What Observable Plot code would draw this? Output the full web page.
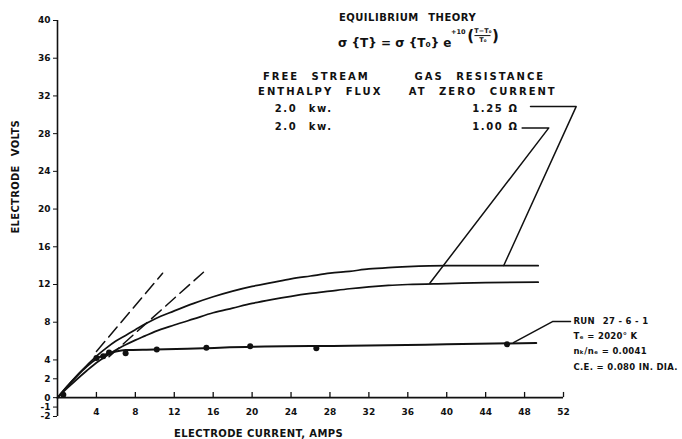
<!DOCTYPE html>
<html><head><meta charset="utf-8">
<script src="https://cdn.jsdelivr.net/npm/d3@7"></script>
<script src="https://cdn.jsdelivr.net/npm/@observablehq/plot@0.6"></script>
<style>
body{margin:0;background:#fff}
#chart svg{font-family:"DejaVu Sans",sans-serif;color:#111;background:#fff}
#chart svg text{font-weight:bold}
#chart [aria-description="title"] text{letter-spacing:0.5px}
#chart [aria-description="heads"] text{letter-spacing:2px}
#chart [aria-description="values"] text{letter-spacing:1.6px}
#chart [aria-description="xlabel"] text{letter-spacing:0.4px}
#chart [aria-description="ylabel"] text{letter-spacing:0.3px}
#chart [aria-description="run"] text{letter-spacing:0.3px}
</style>
</head><body><div id="chart"></div>
<script>
// ---- axes ----
const xTicks = [4, 8, 12, 16, 20, 24, 28, 32, 36, 40, 44, 48, 52];
const yTicks = [-2, -1, 0, 2, 4, 8, 12, 16, 20, 24, 28, 32, 36, 40];

// ---- theory curve, 1.25 ohm ----
const upperI = [0, 1, 2, 3, 4, 5, 6, 7, 8, 9, 10, 12, 14, 16, 18, 20, 22, 24, 26, 28, 30, 32, 34, 36, 40, 44, 49.4];
const upperV = [0, 1.2, 2.35, 3.4, 4.4, 5.25, 6.0, 6.6, 7.2, 7.8, 8.35, 9.2, 10.0, 10.7, 11.3, 11.8, 12.2, 12.6, 12.9, 13.2, 13.4, 13.65, 13.8, 13.9, 14.0, 14.0, 14.0];

// ---- theory curve, 1.00 ohm ----
const lowerI = [0, 1, 2, 3, 4, 5, 6, 7, 8, 9, 10, 12, 14, 16, 18, 20, 22, 24, 26, 28, 30, 32, 34, 36, 40, 44, 49.4];
const lowerV = [0, 1.0, 1.95, 2.85, 3.7, 4.4, 5.05, 5.6, 6.1, 6.55, 7.0, 7.7, 8.35, 9.0, 9.5, 10.0, 10.4, 10.75, 11.05, 11.3, 11.55, 11.75, 11.9, 12.0, 12.1, 12.2, 12.25];

// ---- zero-current resistance tangents (dashed) ----
const tan125I = [4.0, 10.8];
const tan125V = [4.9, 13.2];
const tan100I = [5.3, 15.0];
const tan100V = [4.35, 13.3];

// ---- run 27-6-1 measurements ----
const runI = [0.6, 4.0, 4.7, 5.3, 7.0, 10.2, 15.3, 19.8, 26.6, 46.2];
const runV = [0.3, 4.2, 4.4, 4.8, 4.7, 5.1, 5.3, 5.45, 5.25, 5.65];
const fitI = [0, 1, 2, 3, 4, 5, 6, 7, 10, 15, 20, 30, 40, 49.2];
const fitV = [0, 1.2, 2.3, 3.3, 4.1, 4.6, 4.9, 5.05, 5.1, 5.25, 5.4, 5.5, 5.65, 5.8];

// ---- leader lines (data units) ----
const lead125I = [48.61, 53.30, 45.86];
const lead125V = [30.87, 30.87, 14.01];
const lead100I = [47.75, 50.49, 38.26];
const lead100V = [28.61, 28.61, 12.13];
const leadRunI = [46.86, 50.87, 52.72];
const leadRunV = [5.84, 8.07, 8.07];

// ---- annotation texts ----
const titleText = ["EQUILIBRIUM\u2002 THEORY"];
const titleI = [35.97];
const titleV = [40.31];

const headText = ["FREE\u2002 STREAM", "ENTHALPY\u2002 FLUX", "GAS\u2002 RESISTANCE", "AT\u2002 ZERO\u2002 CURRENT"];
const headI = [26.6, 27.0, 43.4, 43.7];
const headV = [33.98, 32.39, 33.98, 32.39];

const valueText = ["2.0\u2002 kw.", "2.0\u2002 kw.", "1.25 Ω", "1.00 Ω"];
const valueI = [25.3, 25.3, 45.0, 45.0];
const valueV = [30.66, 28.68, 30.66, 28.68];

const runText = ["RUN\u2002 27 - 6 - 1", "Tₑ = 2020° K", "nₖ/nₑ = 0.0041", "C.E. = 0.080 IN. DIA."];
const runTextI = [53.03, 53.03, 53.03, 53.03];
const runTextV = [8.07, 6.5, 4.9, 3.25];

// formula pieces
const formulaMain = "σ {T} = σ {T₀} e";
const formulaExp = "+10";
const formulaNum = "T−T₀";
const formulaDen = "T₀";

const pts = (I, V) => I.map((x, i) => ({x, y: V[i]}));
const txt = (T, I, V) => T.map((t, i) => ({t, x: I[i], y: V[i]}));

const chart = Plot.plot({
  width: 682,
  height: 439,
  marginLeft: 57,
  marginRight: 119,
  marginTop: 20,
  marginBottom: 23,
  x: {domain: [0, 52], axis: null},
  y: {domain: [-2, 40]},
  marks: [
    // axes
    Plot.axisY({ticks: yTicks, tickSize: 4, tickPadding: 3, label: null, fontSize: 9,
      tickFormat: d => d < 0 ? "-" + (-d) : String(d)}),
    Plot.ruleX([0], {y1: -2, y2: 40, strokeWidth: 1.6}),
    Plot.ruleY([0], {x1: 0, x2: 52, strokeWidth: 1.6}),
    Plot.ruleX(xTicks, {x: d => d, y1: 0, y2: 0.55, strokeWidth: 1.3}),
    Plot.text(xTicks, {x: d => d, y: 0, dy: 14, text: d => String(d), fontSize: 9}),
    Plot.text(["ELECTRODE\u2002 VOLTS"], {x: -4.32, y: 23.43, rotate: -90, fontSize: 10, text: d => d, ariaDescription: "ylabel"}),
    Plot.text(["ELECTRODE CURRENT, AMPS"], {x: 20.66, y: -3.84, fontSize: 10, text: d => d, ariaDescription: "xlabel"}),

    // curves
    Plot.line(pts(upperI, upperV), {x: "x", y: "y", curve: "monotone-x", strokeWidth: 1.7}),
    Plot.line(pts(lowerI, lowerV), {x: "x", y: "y", curve: "monotone-x", strokeWidth: 1.7}),
    Plot.line(pts(tan125I, tan125V), {x: "x", y: "y", strokeWidth: 1.5, strokeDasharray: "13,6"}),
    Plot.line(pts(tan100I, tan100V), {x: "x", y: "y", strokeWidth: 1.5, strokeDasharray: "13,6"}),
    Plot.line(pts(fitI, fitV), {x: "x", y: "y", curve: "monotone-x", strokeWidth: 2}),
    Plot.dot(pts(runI, runV), {x: "x", y: "y", r: 3, fill: "currentColor", stroke: "none"}),

    // leaders
    Plot.line(pts(lead125I, lead125V), {x: "x", y: "y", strokeWidth: 1.5}),
    Plot.line(pts(lead100I, lead100V), {x: "x", y: "y", strokeWidth: 1.5}),
    Plot.line(pts(leadRunI, leadRunV), {x: "x", y: "y", strokeWidth: 1.5}),

    // header annotations
    Plot.text(txt(titleText, titleI, titleV), {x: "x", y: "y", text: "t", fontSize: 10, ariaDescription: "title"}),
    Plot.text(txt(headText, headI, headV), {x: "x", y: "y", text: "t", fontSize: 10, ariaDescription: "heads"}),
    Plot.text(txt(valueText, valueI, valueV), {x: "x", y: "y", text: "t", fontSize: 10, ariaDescription: "values"}),

    // formula
    Plot.text([formulaMain], {x: 40.49, y: 37.63, text: d => d, textAnchor: "end", fontSize: 12}),
    Plot.text([formulaExp], {x: 40.45, y: 38.82, text: d => d, textAnchor: "start", fontSize: 6.5}),
    Plot.text(["("], {x: 42.45, y: 38.35, text: d => d, fontSize: 15}),
    Plot.text([")"], {x: 45.0, y: 38.35, text: d => d, fontSize: 15}),
    Plot.text([formulaNum], {x: 43.72, y: 38.93, text: d => d, fontSize: 6.5}),
    Plot.text([formulaDen], {x: 43.72, y: 37.90, text: d => d, fontSize: 6.5}),
    Plot.ruleY([38.40], {x1: 42.9, x2: 44.55, strokeWidth: 1}),

    // run annotation
    Plot.text(txt(runText, runTextI, runTextV), {x: "x", y: "y", text: "t", textAnchor: "start", fontSize: 8.5, ariaDescription: "run"})
  ]
});
document.getElementById("chart").appendChild(chart);
</script>
</body></html>
